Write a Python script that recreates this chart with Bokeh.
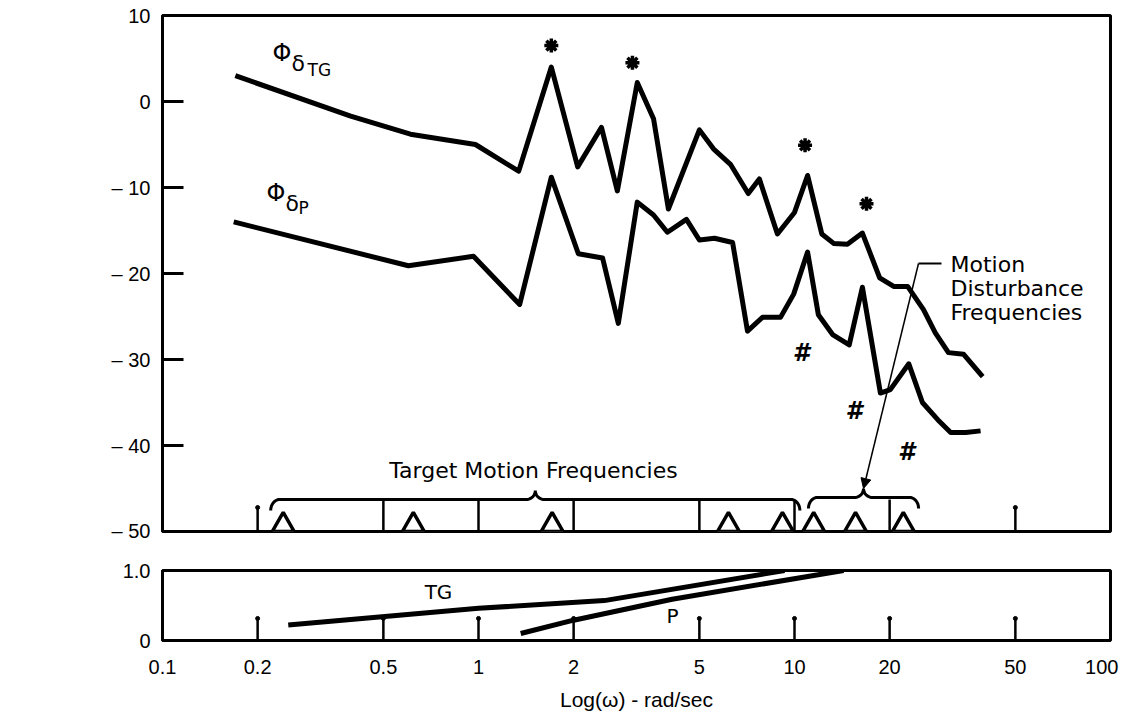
import math
import numpy as np
from bokeh.plotting import figure
from bokeh.layouts import column
from bokeh.models import Range1d, FixedTicker, Label, Arrow, NormalHead
from bokeh.core.properties import value
from bokeh.embed import file_html
from bokeh.resources import INLINE

# ---------------- data ----------------
tg_freq = [0.170, 0.394, 0.609, 0.978, 1.34, 1.70, 2.06, 2.45, 2.75, 3.18, 3.58, 3.99,
           5.00, 5.54, 6.27, 7.14, 7.74, 8.83, 10.0, 11.0, 12.2, 13.3, 14.7, 16.4,
           18.6, 20.6, 22.8, 25.6, 27.9, 30.7, 34.3, 39.4]
tg_db = [3.0, -1.7, -3.8, -5.0, -8.1, 4.0, -7.6, -3.0, -10.4, 2.2, -2.0, -12.5,
         -3.3, -5.5, -7.3, -10.7, -9.0, -15.4, -12.9, -8.6, -15.4, -16.5, -16.6, -15.3,
         -20.5, -21.5, -21.5, -24.2, -26.9, -29.2, -29.4, -32.0]

p_freq = [0.168, 0.600, 0.964, 1.35, 1.70, 2.07, 2.47, 2.77, 3.18, 3.58, 3.96, 4.55,
          5.00, 5.58, 6.37, 7.10, 7.92, 9.03, 9.94, 11.0, 11.9, 13.2, 14.9, 16.4,
          18.7, 20.1, 23.0, 25.4, 28.4, 31.2, 34.8, 38.8]
p_db = [-14.0, -19.1, -18.0, -23.6, -8.8, -17.7, -18.2, -25.8, -11.7, -13.2, -15.2, -13.7,
        -16.1, -15.9, -16.4, -26.7, -25.1, -25.1, -22.4, -17.5, -24.8, -27.1, -28.3, -21.6,
        -33.9, -33.5, -30.5, -35.0, -37.0, -38.5, -38.5, -38.3]

star_freq = [1.70, 3.07, 10.8, 16.9]
star_db = [6.5, 4.5, -5.1, -11.9]
hash_freq = [10.5, 15.4, 22.6]
hash_db = [-29.3, -36.0, -40.7]

target_freq = [0.241, 0.622, 1.71, 6.18, 9.16]
disturb_freq = [11.5, 15.6, 22.1]
target_span = [0.22, 10.4]
disturb_span = [11.07, 24.7]

pf_tg_freq = [0.25, 1.0, 2.5, 9.3]
pf_tg = [0.22, 0.46, 0.57, 1.0]
pf_p_freq = [1.36, 2.0, 4.1, 14.3]
pf_p = [0.10, 0.29, 0.59, 1.0]

x_ticks = [0.1, 0.2, 0.5, 1, 2, 5, 10, 20, 50, 100]
x_tick_labels = ["0.1", "0.2", "0.5", "1", "2", "5", "10", "20", "50", "100\u00a0\u00a0"]
top_short_ticks = [0.2, 50]
top_long_ticks = [0.5, 1, 2, 5, 10, 20]
bot_ticks = [0.2, 0.5, 1, 2, 5, 10, 20, 50]
db_ticks = [10, 0, -10, -20, -30, -40, -50]
db_tick_labels = ["10", "0", "\u2013 10", "\u2013 20", "\u2013 30", "\u2013 40", "\u2013 50"]
pf_ticks = [0, 1]
pf_tick_labels = ["0", "1.0"]

# ---------------- layout constants ----------------
X_MIN, X_MAX = 0.1, 100.0
DB_MIN, DB_MAX = -50, 10
ORG = 0
FIG_W = 1129
BL, BR = 162, 19
TOP_BT, TOP_FH, TOP_BB = 15, 516, 10
BOT_BT, BOT_FH, BOT_BB = 29, 73, 70
FRAME_L = ORG + BL
FRAME_R = ORG + FIG_W - BR
TOP_FT = ORG + TOP_BT
BOT_FT = ORG + TOP_BT + TOP_FH + TOP_BB + BOT_BT
PX_PER_DB = TOP_FH / (DB_MAX - DB_MIN)
DEC = (FRAME_R - FRAME_L) / (math.log10(X_MAX) - math.log10(X_MIN))

FT = "Liberation Sans"
FX = "DejaVu Sans"


def fx(px):
    return 10 ** (math.log10(X_MIN) + (px - FRAME_L) / DEC)


def ty(py):
    return DB_MAX - (py - TOP_FT) / PX_PER_DB


def by(py):
    return 1.0 - (py - BOT_FT) / BOT_FH


def to_px(f):
    return FRAME_L + DEC * (math.log10(f) - math.log10(X_MIN))


def brace(span, ybase_db, drop=11, rise=9, rx=9):
    x0p, x1p = to_px(span[0]), to_px(span[1])
    xcp = (x0p + x1p) / 2
    ybp = TOP_FT + (DB_MAX - ybase_db) * PX_PER_DB
    t = np.linspace(0, np.pi / 2, 14)
    xs, ys = [], []
    cx, cy = x0p + rx, ybp + drop
    xs += list(cx - rx * np.cos(t)); ys += list(cy - drop * np.sin(t))
    cx, cy = xcp - rx, ybp - rise
    xs += list(cx + rx * np.sin(t)); ys += list(cy + rise * np.cos(t))
    cx = xcp + rx
    xs += list(cx - rx * np.cos(t)); ys += list(cy + rise * np.sin(t))
    cx, cy = x1p - rx, ybp + drop
    xs += list(cx + rx * np.sin(t)); ys += list(cy - drop * np.cos(t))
    return [fx(v) for v in xs], [ty(v) for v in ys], fx(xcp), ty(ybp - rise)


def lab(p, text, x, y, size, font=FX, align="left", style="normal"):
    p.add_layout(Label(x=x, y=y, text=text, text_font=font, text_font_size=size,
                       text_align=align, text_baseline="middle", text_color="black",
                       text_font_style=style))


# ---------------- top panel ----------------
top = figure(width=FIG_W, height=TOP_BT + TOP_FH + TOP_BB, x_axis_type="log",
             x_range=Range1d(X_MIN, X_MAX), y_range=Range1d(DB_MIN, DB_MAX),
             x_axis_location=None, title=None, output_backend="svg", toolbar_location=None,
             min_border_left=BL, min_border_right=BR, min_border_top=TOP_BT,
             min_border_bottom=TOP_BB)
top.grid.grid_line_color = None
top.outline_line_color = "black"
top.outline_line_width = 3
top.outline_line_alpha = 1.0
ya = top.yaxis[0]
ya.ticker = FixedTicker(ticks=db_ticks)
ya.major_label_overrides = dict(zip(db_ticks, db_tick_labels))
ya.major_tick_in = 21
ya.major_tick_out = 0
ya.major_tick_line_width = 3
ya.minor_tick_line_color = None
ya.axis_line_width = 3
ya.major_label_text_font = FT
ya.major_label_text_font_size = "20px"
ya.major_label_text_color = "black"
ya.major_label_standoff = 12

BRACE_DB = ty(499)
SHORT_TOP = DB_MIN + 24 / PX_PER_DB
top.segment(x0=top_short_ticks, y0=[DB_MIN] * len(top_short_ticks), x1=top_short_ticks,
            y1=[SHORT_TOP] * len(top_short_ticks), line_color="black", line_width=2.5)
top.scatter(top_short_ticks, [SHORT_TOP] * len(top_short_ticks), marker="circle", size=4,
            fill_color="black", line_color="black")
top.segment(x0=top_long_ticks, y0=[DB_MIN] * len(top_long_ticks), x1=top_long_ticks,
            y1=[BRACE_DB] * len(top_long_ticks), line_color="black", line_width=2.5)

top.line(tg_freq, tg_db, line_color="black", line_width=5, line_join="round")
top.line(p_freq, p_db, line_color="black", line_width=5, line_join="round")

bx, byy, tcx, tcy = brace(target_span, BRACE_DB)
top.line(bx, byy, line_color="black", line_width=3)
dx, dyy, dcx, dcy = brace(disturb_span, ty(497))
top.line(dx, dyy, line_color="black", line_width=3)

TRI = 22
tri_y = DB_MIN + (TRI / 2 * math.sqrt(3) / 3) / PX_PER_DB
allf = target_freq + disturb_freq
top.scatter(allf, [tri_y] * len(allf), marker="triangle", size=TRI, fill_color="white",
            line_color="black", line_width=3.5)

top.scatter(star_freq, star_db, marker="asterisk", size=14, line_color="black", line_width=3.5)
top.text(hash_freq, hash_db, text=["#"] * len(hash_freq), text_font=value(FX),
         text_font_style="bold italic", text_font_size="24px", text_align="center",
         text_baseline="middle", text_color="black")

top.segment(x0=[fx(918)], y0=[ty(263)], x1=[fx(941)], y1=[ty(263)], line_color="black", line_width=2)
top.add_layout(Arrow(end=NormalHead(size=10, fill_color="black", line_color="black"),
                     x_start=fx(918), y_start=ty(263), x_end=dcx, y_end=dcy,
                     line_color="black", line_width=1.5))

lab(top, "Motion", fx(950), ty(264), "22px")
lab(top, "Disturbance", fx(950), ty(288), "22px")
lab(top, "Frequencies", fx(950), ty(312), "22px")
lab(top, "Target Motion Frequencies", fx(533), ty(470), "22px", align="center")
lab(top, "\u03a6", fx(272), ty(52), "24px")
lab(top, "\u03b4", fx(291), ty(63), "22px")
lab(top, "TG", fx(307), ty(69), "17px")
lab(top, "\u03a6", fx(266), ty(192), "24px")
lab(top, "\u03b4", fx(285), ty(203), "22px")
lab(top, "P", fx(298), ty(207), "17px")
lab(top, "\u03a6 (\u03c9)", fx(40), ty(258), "21px", align="center")
lab(top, "dB", fx(40), ty(300), "21px", align="center")

# ---------------- bottom panel ----------------
bot = figure(width=FIG_W, height=BOT_BT + BOT_FH + BOT_BB, x_axis_type="log",
             x_range=Range1d(X_MIN, X_MAX), y_range=Range1d(0, 1),
             title=None, output_backend="svg", toolbar_location=None,
             min_border_left=BL, min_border_right=BR, min_border_top=BOT_BT,
             min_border_bottom=BOT_BB)
bot.grid.grid_line_color = None
bot.outline_line_color = "black"
bot.outline_line_width = 3
bot.outline_line_alpha = 1.0
xa = bot.xaxis[0]
xa.ticker = FixedTicker(ticks=x_ticks)
xa.major_label_overrides = dict(zip(x_ticks, x_tick_labels))
xa.major_tick_in = 0
xa.major_tick_out = 0
xa.minor_tick_line_color = None
xa.axis_line_width = 3
xa.major_label_text_font = FT
xa.major_label_text_font_size = "20px"
xa.major_label_text_color = "black"
xa.major_label_standoff = 15
xa.axis_label = "Log(\u03c9) - rad/sec"
xa.axis_label_text_font = FT
xa.axis_label_text_font_size = "21px"
xa.axis_label_text_font_style = "normal"
xa.axis_label_text_color = "black"
xa.axis_label_standoff = 7
yb = bot.yaxis[0]
yb.ticker = FixedTicker(ticks=pf_ticks)
yb.major_label_overrides = dict(zip(pf_ticks, pf_tick_labels))
yb.major_tick_in = 0
yb.major_tick_out = 0
yb.minor_tick_line_color = None
yb.axis_line_width = 3
yb.major_label_text_font = FT
yb.major_label_text_font_size = "20px"
yb.major_label_text_color = "black"
yb.major_label_standoff = 12

BT_TOP = 23 / BOT_FH
bot.segment(x0=bot_ticks, y0=[0] * len(bot_ticks), x1=bot_ticks,
            y1=[BT_TOP] * len(bot_ticks), line_color="black", line_width=2.5)
bot.scatter(bot_ticks, [BT_TOP] * len(bot_ticks), marker="circle", size=4,
            fill_color="black", line_color="black")
bot.line(pf_tg_freq, pf_tg, line_color="black", line_width=5)
bot.line(pf_p_freq, pf_p, line_color="black", line_width=5)

lab(bot, "TG", fx(438), by(592), "20px", align="center")
lab(bot, "P", fx(672), by(617), "20px", align="center")
lab(bot, "PF(\u03c9)", fx(48), by(580), "21px", align="center")

layout = column(top, bot)
open("out.html", "w").write(file_html(layout, INLINE))
